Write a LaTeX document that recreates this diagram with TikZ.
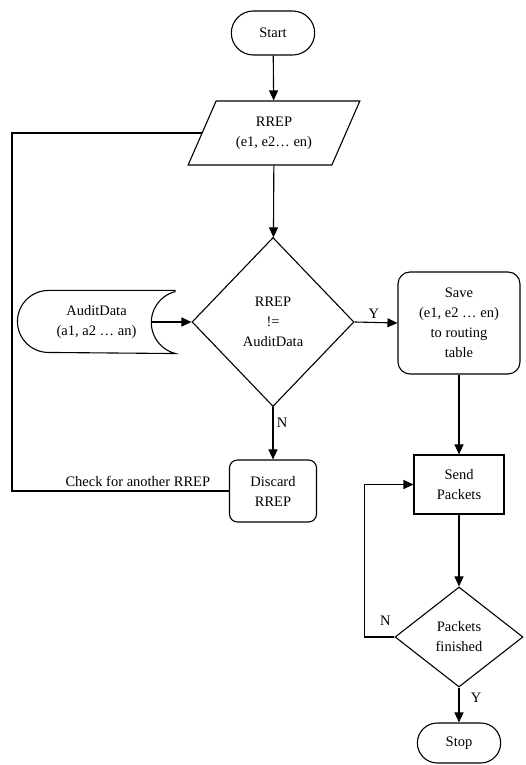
\documentclass[tikz,border=0pt]{standalone}
\usepackage{fontspec}
\setmainfont{Liberation Serif}
\usetikzlibrary{arrows.meta,calc,shapes.geometric,shapes.misc,positioning}
\tikzset{
  flow/.style={line width=1.1pt, -{Triangle[length=10pt, width=9pt]}},
  plain flow/.style={line width=1.1pt},
  box/.style={draw, line width=1.1pt, align=center, font=\fontsize{14.5}{20}\selectfont},
  terminal/.style={box, rounded rectangle, minimum width=90pt, minimum height=44pt},
  io/.style={box, trapezium, trapezium left angle=63, trapezium right angle=117,
    trapezium stretches=true, minimum width=172pt, minimum height=64pt},
  decision/.style={box, diamond, inner sep=0pt},
  process/.style={box, rectangle, rounded corners=12pt},
  store/.style={box, draw=none, minimum width=157pt, minimum height=62pt},
  tag/.style={font=\fontsize{14.5}{20}\selectfont},
}

\begin{document}
\begin{tikzpicture}[x=1pt, y=1pt]
  \useasboundingbox (0,0) rectangle (525,765);

  % Nodes
  \node[terminal] (start) at (273,732) {Start};
  \node[io] (rrep) at (274,632) {RREP\\(e1, e2… en)};
  \node[decision, minimum width=162pt, minimum height=169pt] (check) at (273,443) {RREP\\!=\\AuditData};
  \node[store] (audit) at (96.5,443) {AuditData\\(a1, a2 … an)};
  \node[process, minimum width=122pt, minimum height=102pt] (save) at (459,442) {Save\\(e1, e2 … en)\\to routing\\table};
  \node[process, rounded corners=8pt, minimum width=87pt, minimum height=62pt] (discard) at (273,274) {Discard\\RREP};
  \node[box, minimum width=90pt, minimum height=59pt] (send) at (459,280.5) {Send\\Packets};
  \node[decision, minimum width=128pt, minimum height=100pt] (done) at (459,128) {Packets\\finished};
  \node[terminal, minimum height=40pt] (stop) at (459,22) {Stop};
  \coordinate (back) at (12,274);

  % Stored data outline
  \draw[plain flow] (audit.north east) -- ([xshift=31pt]audit.north west)
    arc[start angle=90, end angle=270, radius=31pt] -- (audit.south east)
    arc[start angle=256, end angle=104, radius=32pt];

  % Connectors
  \draw[flow] (start) -- (rrep);
  \draw[flow] (rrep) -- (check);
  \draw[flow] ([xshift=-25pt]audit.east) -- (check.west);
  \draw[flow] (check.east) -- node[tag, above, pos=0.45] {Y} (save.west);
  \draw[flow] (check.south) -- node[tag, right, pos=0.3] {N} (discard.north);
  \draw[plain flow] (discard.west) -- node[tag, above, pos=0.42] {Check for another RREP} (discard.west -| back) |- (rrep.west);
  \draw[flow] (save) -- (send);
  \draw[flow] (send) -- (done);
  \draw[flow] (done.west) -- node[tag, above=8pt, pos=0.3] {N} ++(-30pt,0) |- (send.west);
  \draw[flow] (done.south) -- node[tag, right=8pt, pos=0.3] {Y} (stop.north);
\end{tikzpicture}
\end{document}
